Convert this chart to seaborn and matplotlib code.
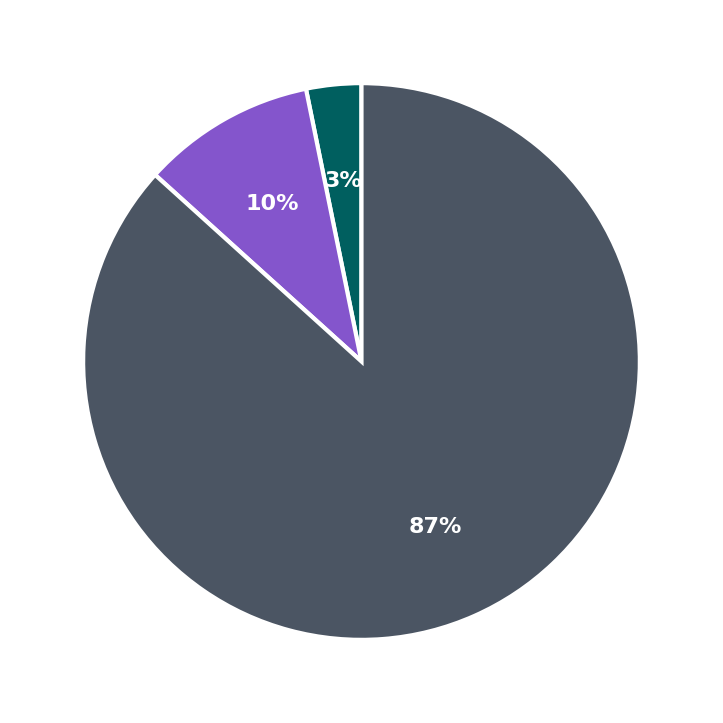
import matplotlib
matplotlib.use("Agg")
import matplotlib.pyplot as plt
import seaborn as sns

sns.set_theme(style="white")
labels = ["A", "B", "C"]
values = [3.2, 10.1, 86.7]
colors = ["#005F5F", "#8455CC", "#4B5563"]

fig, ax = plt.subplots(figsize=(7.23, 7.23), dpi=100)
fig.subplots_adjust(left=0.115, right=0.885, bottom=0.115, top=0.885)
ax.pie(values, colors=colors, startangle=90, counterclock=True,
       autopct="%1.0f%%", pctdistance=0.65, radius=1.25,
       wedgeprops=dict(edgecolor="white", linewidth=3),
       textprops=dict(color="white", fontsize=16, fontweight="bold"))
ax.set_aspect("equal")
fig.savefig("out.png", dpi=100, facecolor="white")
